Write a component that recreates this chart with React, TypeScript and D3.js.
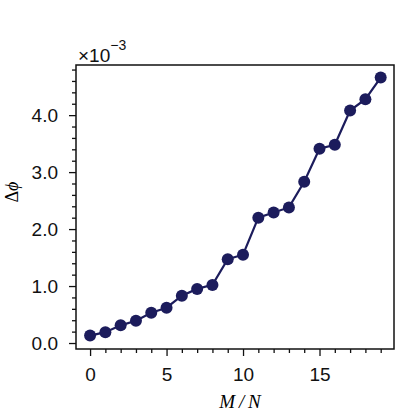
import React, { useRef, useEffect } from "react";
import * as d3 from "d3";

// M/N values and delta phi (x 1e-3)
const ratios = [0, 1, 2, 3, 4, 5, 6, 7, 8, 9, 10, 11, 12, 13, 14, 15, 16, 17, 18, 19];
const deltaPhi = [0.13, 0.19, 0.31, 0.39, 0.53, 0.62, 0.83, 0.95, 1.02, 1.47, 1.55, 2.2, 2.29, 2.38, 2.83, 3.41, 3.48, 4.08, 4.28, 4.66];
const xMajor = [0, 5, 10, 15];
const yMajor = [0, 1, 2, 3, 4];

const App = () => {
  const svgRef = useRef(null);
  const width = 415, height = 415;
  const margin = { left: 76, right: 21, top: 65, bottom: 66 };
  const navy = "#1c1c5c";

  useEffect(() => {
    const svg = d3.select(svgRef.current);
    svgRef.current.querySelectorAll("*").forEach((n) => n.remove());

    const xScale = d3.scaleLinear()
      .domain([-0.92, 19.87])
      .range([margin.left, width - margin.right]);
    const yScale = d3.scaleLinear()
      .domain([-0.105, 4.88])
      .range([height - margin.bottom, margin.top]);

    const font = "'Liberation Sans', Arial, sans-serif";
    const serif = "'Liberation Serif', 'DejaVu Serif', serif";

    // x axis with minor ticks
    const xMinor = d3.range(0, 20, 1).filter((d) => d % 5 !== 0);
    svg.append("g")
      .attr("transform", `translate(0, ${height - margin.bottom})`)
      .call(d3.axisBottom(xScale).tickValues(xMinor).tickSize(4).tickFormat(() => ""))
      .call((g) => g.select(".domain").remove());
    svg.append("g")
      .attr("transform", `translate(0, ${height - margin.bottom})`)
      .call(d3.axisBottom(xScale).tickValues(xMajor).tickSize(7).tickPadding(12).tickFormat(d3.format("d")))
      .call((g) => g.select(".domain").remove())
      .call((g) => g.selectAll("text").attr("font-size", 19).attr("font-family", font).attr("fill", "#111"));

    // y axis with minor ticks
    const yMinor = d3.range(0, 4.9, 0.2).filter((d) => Math.abs(d - Math.round(d)) > 0.01);
    svg.append("g")
      .attr("transform", `translate(${margin.left}, 0)`)
      .call(d3.axisLeft(yScale).tickValues(yMinor).tickSize(4).tickFormat(() => ""))
      .call((g) => g.select(".domain").remove());
    svg.append("g")
      .attr("transform", `translate(${margin.left}, 0)`)
      .call(d3.axisLeft(yScale).tickValues(yMajor).tickSize(7).tickPadding(11).tickFormat(d3.format(".1f")))
      .call((g) => g.select(".domain").remove())
      .call((g) => g.selectAll("text").attr("font-size", 19).attr("font-family", font).attr("fill", "#111"));

    svg.selectAll(".tick line").attr("stroke", "#111").attr("stroke-width", 1.3);

    // frame
    svg.append("rect")
      .attr("x", margin.left)
      .attr("y", margin.top)
      .attr("width", width - margin.left - margin.right)
      .attr("height", height - margin.top - margin.bottom)
      .attr("fill", "none")
      .attr("stroke", "#111")
      .attr("stroke-width", 1.5);

    // line and markers
    const pts = ratios.map((r, i) => [r, deltaPhi[i]]);
    const lineGen = d3.line()
      .x((d) => xScale(d[0]))
      .y((d) => yScale(d[1]));
    svg.append("path")
      .datum(pts)
      .attr("d", lineGen)
      .attr("fill", "none")
      .attr("stroke", navy)
      .attr("stroke-width", 2.2);
    svg.selectAll(".dot")
      .data(pts)
      .join("circle")
      .attr("cx", (d) => xScale(d[0]))
      .attr("cy", (d) => yScale(d[1]))
      .attr("r", 6)
      .attr("fill", navy);

    // offset text
    const off = svg.append("text")
      .attr("x", margin.left + 2)
      .attr("y", 62)
      .attr("font-family", font)
      .attr("font-size", 19)
      .attr("fill", "#111");
    off.append("tspan").text("×10");
    off.append("tspan").attr("dy", -12).attr("font-size", 14).text("−3");

    // axis labels
    svg.append("text")
      .attr("x", 240)
      .attr("y", 408)
      .attr("text-anchor", "middle")
      .attr("font-family", serif)
      .attr("font-style", "italic")
      .attr("font-size", 19)
      .text("M\u2009/\u2009N");
    const yl = svg.append("text")
      .attr("transform", `translate(18, 192) rotate(-90)`)
      .attr("text-anchor", "middle")
      .attr("font-family", serif)
      .attr("font-size", 18);
    yl.append("tspan").text("Δ");
    yl.append("tspan").attr("font-style", "italic").text("ϕ");
  }, []);

  return (
    <div style={{ position: "absolute", left: 0, top: 0 }}>
      <svg ref={svgRef} width={width} height={height} style={{ background: "#fff" }} />
    </div>
  );
};

export default App;
